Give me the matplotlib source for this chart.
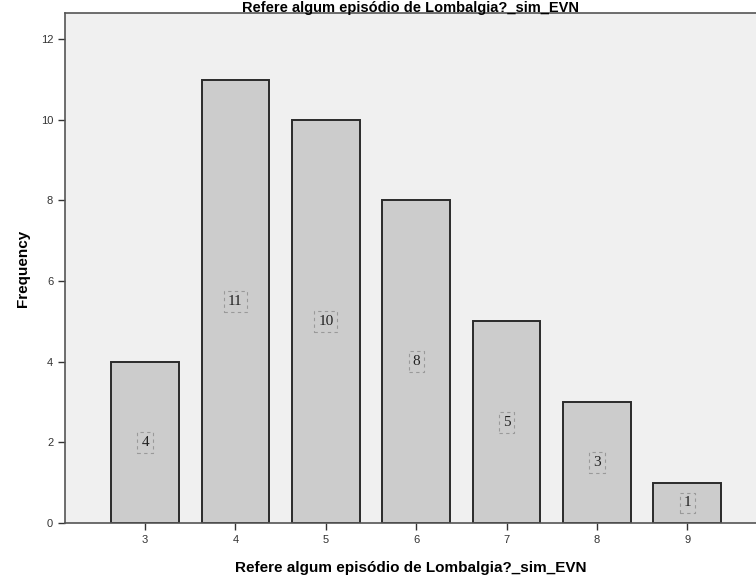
import numpy as np
import matplotlib.pyplot as plt

categories = [3, 4, 5, 6, 7, 8, 9]
frequency = [4, 11, 10, 8, 5, 3, 1]
y_ticks = [0, 2, 4, 6, 8, 10, 12]
title = "Refere algum episódio de Lombalgia?_sim_EVN"

plt.rcParams['font.family'] = ['Liberation Sans', 'DejaVu Sans']

fig = plt.figure(figsize=(7.56, 5.8), dpi=100)
ax = fig.add_axes([0.086, 0.0983, 0.914, 0.8793])
ax.set_facecolor('#f0f0f0')

bars = ax.bar(categories, frequency, width=0.75, color='#cccccc',
              edgecolor='#2a2a2a', linewidth=1.4, zorder=2)

for x, v in zip(categories, frequency):
    ax.text(x, v / 2, str(v), ha='center', va='center', fontsize=11,
            family='Liberation Serif', color='#222222', zorder=3,
            bbox=dict(boxstyle='square,pad=0.25', facecolor='none',
                      edgecolor='#999999', linestyle=(0, (3, 3)), linewidth=0.8))

ax.set_xlim(2.114, 9.76)
ax.set_ylim(0, 12.65)
ax.set_xticks(categories)
ax.set_yticks(y_ticks)
ax.tick_params(axis='both', labelsize=8, colors='#333333', length=5, width=1)

for side in ['left', 'bottom', 'top']:
    ax.spines[side].set_color('#555555')
    ax.spines[side].set_linewidth(1.2)
ax.spines['right'].set_visible(False)

ax.set_ylabel('Frequency', fontsize=11, fontweight='bold', labelpad=8)
ax.set_xlabel(title, fontsize=11, fontweight='bold', labelpad=12)
# title sits right at the top edge, just above the frame
fig.text(0.543, 0.999, title, ha='center', va='top', fontsize=10.5, fontweight='bold')

fig.savefig('out.png', dpi=100)
